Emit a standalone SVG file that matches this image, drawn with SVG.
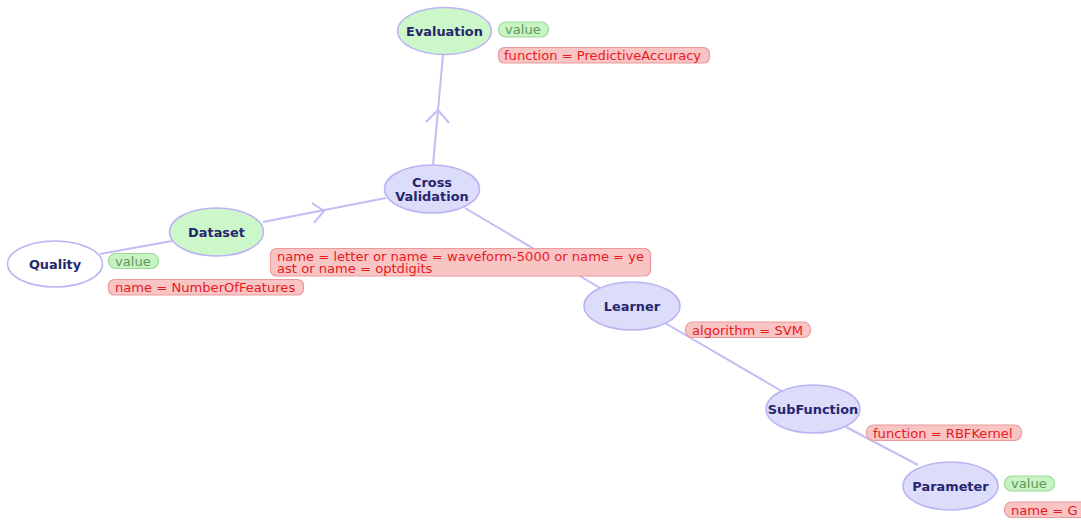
<svg xmlns="http://www.w3.org/2000/svg" width="1081" height="520" viewBox="0 0 1081 520">
<style>
.n{stroke:#bcb4f2;stroke-width:1.5}
.lav{fill:#dcdcfb}
.grn{fill:#ccf7c8}
.wht{fill:#ffffff}
.nt{font-family:"DejaVu Sans",Verdana,sans-serif;font-weight:bold;font-size:12.9px;fill:#26266e;text-anchor:middle}
.e{stroke:#c4bcf4;stroke-width:2;fill:none}
.pr{fill:#f9c4c4;stroke:#e99a9a;stroke-width:1.2}
.pg{fill:#c8f4c4;stroke:#98d894;stroke-width:1.2}
.tr{font-family:"DejaVu Sans",Verdana,sans-serif;font-size:13.1px;fill:#e8191f}
.tg{font-family:"DejaVu Sans",Verdana,sans-serif;font-size:13.1px;fill:#5c9a5c}
</style>
<rect width="1081" height="520" fill="#ffffff"/>
<g id="connectors">
<line class="e" x1="433" y1="165" x2="443" y2="55"/>
<polyline class="e" points="426,122 438,110 449,123"/>
<line class="e" x1="263" y1="222" x2="386" y2="198"/>
<polyline class="e" points="312,203 324,211 314,223"/>
<line class="e" x1="100" y1="254" x2="172" y2="241"/>
<line class="e" x1="465" y1="208" x2="600" y2="288"/>
<line class="e" x1="665" y1="323" x2="785" y2="393"/>
<line class="e" x1="846" y1="427" x2="918" y2="465"/>
</g>
<g id="evaluation">
<ellipse class="n grn" cx="444.5" cy="31" rx="47" ry="23.5"/>
<text class="nt" x="444.5" y="35.5">Evaluation</text>
<rect class="pg" x="498.5" y="22" width="50" height="15" rx="7.5"/>
<text class="tg" x="505" y="34">value</text>
<rect class="pr" x="498.5" y="47.5" width="211" height="15.5" rx="6"/>
<text class="tr" x="504" y="60">function = PredictiveAccuracy</text>
</g>
<g id="crossvalidation">
<ellipse class="n lav" cx="432" cy="189" rx="47.5" ry="24"/>
<text class="nt" x="432" y="187">Cross<tspan x="432" y="201">Validation</tspan></text>
</g>
<g id="dataset">
<ellipse class="n grn" cx="216.5" cy="232" rx="47" ry="24"/>
<text class="nt" x="216.5" y="236.5">Dataset</text>
<rect class="pr" x="270.5" y="248.5" width="380" height="27.5" rx="6"/>
<text class="tr" x="277" y="260.5">name = letter or name = waveform-5000 or name = ye<tspan x="277" y="273">ast or name = optdigits</tspan></text>
</g>
<g id="quality">
<ellipse class="n wht" cx="55" cy="264" rx="47.5" ry="23"/>
<text class="nt" x="55" y="268.5">Quality</text>
<rect class="pg" x="108.5" y="253.5" width="50" height="15" rx="7.5"/>
<text class="tg" x="115" y="265.5">value</text>
<rect class="pr" x="108.5" y="279.5" width="195" height="15.5" rx="6"/>
<text class="tr" x="115" y="292">name = NumberOfFeatures</text>
</g>
<g id="learner">
<ellipse class="n lav" cx="632" cy="306" rx="48" ry="24"/>
<text class="nt" x="632" y="310.5">Learner</text>
<rect class="pr" x="685.5" y="322" width="125" height="15.5" rx="7"/>
<text class="tr" x="692" y="334.5">algorithm = SVM</text>
</g>
<g id="subfunction">
<ellipse class="n lav" cx="813" cy="409" rx="47" ry="24"/>
<text class="nt" x="813" y="413.5">SubFunction</text>
<rect class="pr" x="866.5" y="425" width="155" height="15.5" rx="7"/>
<text class="tr" x="873" y="437.5">function = RBFKernel</text>
</g>
<g id="parameter">
<ellipse class="n lav" cx="950.5" cy="486" rx="47.5" ry="24"/>
<text class="nt" x="950.5" y="490.5">Parameter</text>
<rect class="pg" x="1004.5" y="476" width="50" height="15" rx="7.5"/>
<text class="tg" x="1011" y="488">value</text>
<rect class="pr" x="1004.5" y="502" width="90" height="15.5" rx="7"/>
<text class="tr" x="1011" y="514.5">name = G</text>
</g>
</svg>
